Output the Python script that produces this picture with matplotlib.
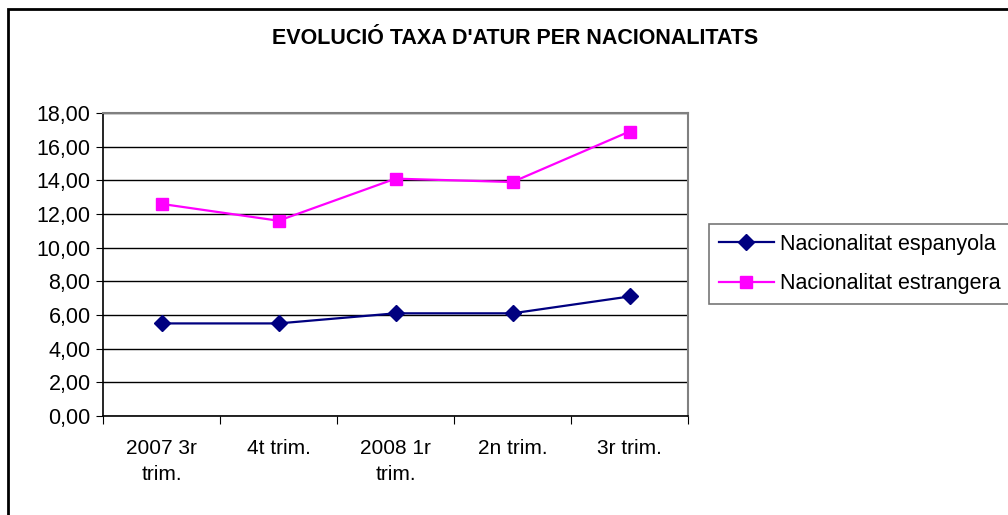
import matplotlib

matplotlib.use("Agg")
import matplotlib.pyplot as plt
from matplotlib.patches import Rectangle

categories = ["2007 3r\ntrim.", "4t trim.", "2008 1r\ntrim.", "2n trim.", "3r trim."]
espanyola = [5.5, 5.5, 6.1, 6.1, 7.1]
estrangera = [12.6, 11.6, 14.1, 13.9, 16.9]
y_ticks = [0, 2, 4, 6, 8, 10, 12, 14, 16, 18]

plt.rcParams["font.family"] = ["Liberation Sans", "DejaVu Sans"]

dpi = 100
fig = plt.figure(figsize=(1008 / dpi, 515 / dpi), dpi=dpi)
W, H = 1008, 515

# outer chart frame (right and bottom edges fall outside the image)
fig.patches.append(
    Rectangle((8 / W, -0.1), 1.2, 1.1 - 9 / H, transform=fig.transFigure,
              fill=False, edgecolor="black", linewidth=2)
)

ax = fig.add_axes([103 / W, 1 - 416 / H, 585 / W, 303 / H])
x = list(range(len(categories)))
ax.plot(x, espanyola, color="#000080", marker="D", markersize=8, linewidth=1.6,
        label="Nacionalitat espanyola", zorder=3)
ax.plot(x, estrangera, color="#FF00FF", marker="s", markersize=8, linewidth=1.6,
        label="Nacionalitat estrangera", zorder=3)

ax.set_xlim(-0.5, len(categories) - 0.5)
ax.set_ylim(0, 18)
ax.set_yticks(y_ticks)
ax.set_yticklabels([f"{v:.2f}".replace(".", ",") for v in y_ticks], fontsize=15.5)
ax.yaxis.grid(True, color="black", linewidth=1)
ax.set_axisbelow(True)

ax.set_xticks([i - 0.5 for i in range(len(categories) + 1)])
ax.set_xticklabels([])
ax.set_xticks(x, minor=True)
ax.set_xticklabels(categories, minor=True, fontsize=15, linespacing=1.45)
ax.tick_params(axis="x", which="major", direction="out", length=6, color="black")
ax.tick_params(axis="x", which="minor", length=0, pad=16.5)
ax.tick_params(axis="y", direction="out", length=5, color="black", pad=4)

for side in ["top", "right"]:
    ax.spines[side].set_color("#808080")
    ax.spines[side].set_linewidth(1.5)
for side in ["left", "bottom"]:
    ax.spines[side].set_color("black")
    ax.spines[side].set_linewidth(1.2)

fig.text(515 / W, 1 - 39 / H, "EVOLUCIÓ TAXA D'ATUR PER NACIONALITATS", ha="center",
         va="center", fontsize=15.5, fontweight="bold")

leg = fig.legend(loc="upper left", bbox_to_anchor=(709 / W, 1 - 224 / H),
                 fontsize=15.5, frameon=True, fancybox=False, edgecolor="#555555",
                 handlelength=2.56, borderaxespad=0, borderpad=0.45,
                 labelspacing=0.87, handletextpad=0.28)
leg.get_frame().set_linewidth(1.2)

fig.savefig("out.png", dpi=dpi)
